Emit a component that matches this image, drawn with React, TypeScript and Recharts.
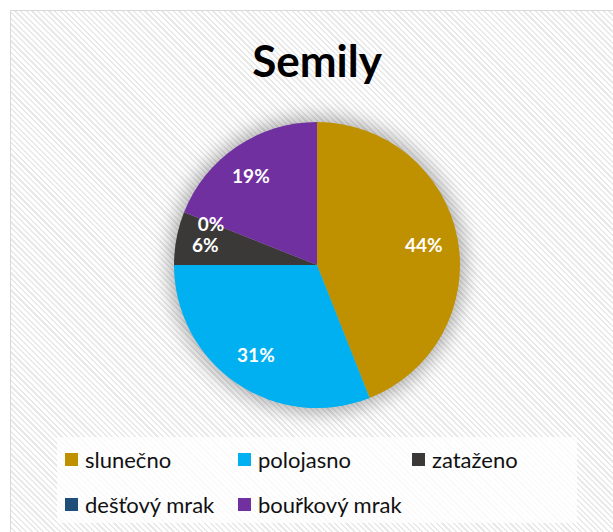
import { PieChart, Pie, Cell, Legend } from "recharts";

const categories = ["slunečno", "polojasno", "zataženo", "dešťový mrak", "bouřkový mrak"];
const shares = [44, 31, 6, 0, 19];
const colors = ["#BF9000", "#00B0F0", "#3B3838", "#1F4E79", "#7030A0"];

const chartData = categories.map((name, i) => ({ name, value: shares[i] }));

const RAD = Math.PI / 180;
const FONT = "Lato, 'Open Sans', sans-serif";

function renderLabel(props: any) {
  const { cx, cy, midAngle, outerRadius, index } = props;
  const r = outerRadius * 0.76;
  const x = cx + r * Math.cos(-midAngle * RAD) - (index >= 2 && index <= 4 ? 5 : 0);
  const y = cy + r * Math.sin(-midAngle * RAD) + (index === 3 ? -1 : 0);
  return (
    <text x={x} y={y} fill="#fff" textAnchor="middle" dominantBaseline="central"
      fontFamily={FONT} fontWeight={700} fontSize={19}>
      {shares[index]}%
    </text>
  );
}

function LegendBox() {
  const cols = [8, 181, 355];
  const rows = [22, 67];
  return (
    <div style={{ position: "relative", width: 520, height: 86, background: "rgba(255,255,255,0.78)" }}>
      {categories.map((name, i) => (
        <div key={name} style={{
          position: "absolute", left: cols[i % 3], top: rows[Math.floor(i / 3)] - 15,
          height: 30, display: "flex", alignItems: "center", whiteSpace: "nowrap",
          fontFamily: FONT, fontSize: 22, color: "#111",
        }}>
          <span style={{ width: 13, height: 13, background: colors[i], marginRight: 7, display: "inline-block" }} />
          {name}
        </div>
      ))}
    </div>
  );
}

export default function App() {
  return (
    <div style={{
      position: "absolute", left: 10, top: 10, width: 603, height: 522, boxSizing: "border-box",
      borderTop: "1px solid #D9D9D9", borderLeft: "1px solid #D9D9D9",
      background: "repeating-linear-gradient(45deg, #ffffff 0px, #ffffff 2.4px, #e9e9e9 2.4px, #e9e9e9 4px)",
    }}>
      <PieChart width={602} height={521} margin={{ top: 0, right: 0, bottom: 0, left: 0 }}>
        <defs>
          <filter id="pieGlow" x="-30%" y="-30%" width="160%" height="160%">
            <feGaussianBlur stdDeviation="10" />
          </filter>
        </defs>
        <text x={306} y={66} textAnchor="middle" fontFamily={FONT} fontWeight={700} fontSize={44} fill="#000">
          Semily
        </text>
        <Pie data={chartData} dataKey="value" nameKey="name" cx={306} cy={254} outerRadius={147}
          startAngle={90} endAngle={-270} stroke="none" legendType="none" isAnimationActive={false}>
          {chartData.map((d) => (
            <Cell key={d.name} fill="#000" fillOpacity={0.33} filter="url(#pieGlow)" />
          ))}
        </Pie>
        <Pie data={chartData} dataKey="value" nameKey="name" cx={306} cy={254} outerRadius={143}
          startAngle={90} endAngle={-270} stroke="none" labelLine={false} label={renderLabel}
          isAnimationActive={false}>
          {chartData.map((d, i) => (
            <Cell key={d.name} fill={colors[i]} />
          ))}
        </Pie>
        <Legend content={() => <LegendBox />}
          wrapperStyle={{ left: 46, top: 426, width: 520, height: 86 }} />
      </PieChart>
    </div>
  );
}
